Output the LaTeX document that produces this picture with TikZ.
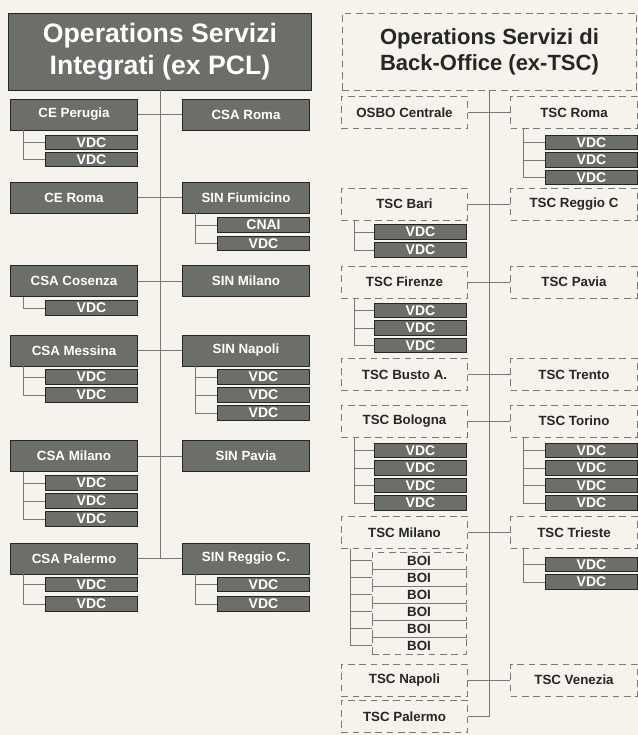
\documentclass[tikz,border=0pt]{standalone}
\usepackage{fontspec}
\setmainfont{Liberation Sans}
\definecolor{paper}{RGB}{245,243,236}
\definecolor{boxgray}{RGB}{108,110,105}
\definecolor{linegray}{RGB}{120,120,120}
\begin{document}
\begin{tikzpicture}[x=0.75pt, y=-0.75pt, font=\bfseries\fontsize{10}{12}\selectfont,
  unit/.style={draw=black!85, line width=0.7pt, fill=boxgray, text=white, inner sep=0pt, minimum width=95pt, minimum height=23.25pt},
  vdc/.style={draw=black!85, line width=0.7pt, fill=boxgray, text=white, inner sep=0pt, minimum width=68.5pt, minimum height=10.8pt, font=\bfseries\fontsize{10.5}{10.5}\selectfont},
  site/.style={draw=linegray, line width=0.6pt, dash pattern=on 5pt off 3.5pt, text=black!85, inner sep=0pt, minimum width=95pt, minimum height=24pt},
  boi/.style={draw=linegray, line width=0.6pt, dash pattern=on 5pt off 3.5pt, text=black!85, inner sep=0pt, minimum width=70.5pt, minimum height=12.75pt, font=\bfseries\fontsize{10}{10}\selectfont},
  link/.style={draw=linegray, line width=0.6pt}]
\useasboundingbox (0,0) rectangle (638,735);
\fill[paper] (0,0) rectangle (638,735);

% Operations Servizi Integrati
\node[unit, minimum width=227pt, minimum height=57.75pt, align=center, font=\bfseries\fontsize{20}{24}\selectfont] (pcl) at (160,51.5) {Operations Servizi\\Integrati (ex PCL)};
\node[unit] (ceper) at (74,114.5) {CE Perugia};
\node[unit] (csarm) at (246,114.5) {CSA Roma};
\node[vdc] (ceper1) at (91.5,142.5) {VDC};
\node[vdc] (ceper2) at (91.5,159.5) {VDC};
\node[unit] (cerm) at (74,197.5) {CE Roma};
\node[unit] (sinfco) at (246,197.5) {SIN Fiumicino};
\node[vdc] (sinfco1) at (263.5,225) {CNAI};
\node[vdc] (sinfco2) at (263.5,243.5) {VDC};
\node[unit] (csacs) at (74,281) {CSA Cosenza};
\node[unit] (sinmi) at (246,281) {SIN Milano};
\node[vdc] (csacs1) at (91.5,308) {VDC};
\node[unit] (csame) at (74,350.5) {CSA Messina};
\node[unit] (sinna) at (246,350.5) {SIN Napoli};
\node[vdc] (csame1) at (91.5,377) {VDC};
\node[vdc] (csame2) at (91.5,395) {VDC};
\node[vdc] (sinna1) at (263.5,377) {VDC};
\node[vdc] (sinna2) at (263.5,395) {VDC};
\node[vdc] (sinna3) at (263.5,413) {VDC};
\node[unit] (csami) at (74,456) {CSA Milano};
\node[unit] (sinpv) at (246,456) {SIN Pavia};
\node[vdc] (csami1) at (91.5,483) {VDC};
\node[vdc] (csami2) at (91.5,501) {VDC};
\node[vdc] (csami3) at (91.5,519) {VDC};
\node[unit] (csapa) at (74,558.5) {CSA Palermo};
\node[unit] (sinrc) at (246,558.5) {SIN Reggio C.};
\node[vdc] (csapa1) at (91.5,584.5) {VDC};
\node[vdc] (csapa2) at (91.5,604) {VDC};
\node[vdc] (sinrc1) at (263.5,584.5) {VDC};
\node[vdc] (sinrc2) at (263.5,604) {VDC};
\coordinate (pclend) at (160,558.5);

\draw[link] (pcl.south) -- (pclend);
\draw[link] (ceper.east) -- (csarm.west);
\draw[link] (cerm.east) -- (sinfco.west);
\draw[link] (csacs.east) -- (sinmi.west);
\draw[link] (csame.east) -- (sinna.west);
\draw[link] (csami.east) -- (sinpv.west);
\draw[link] (csapa.east) -- (sinrc.west);
\draw[link] ([xshift=10pt]ceper.south west) |- (ceper1.west);
\draw[link] ([xshift=10pt]ceper.south west) |- (ceper2.west);
\draw[link] ([xshift=10pt]sinfco.south west) |- (sinfco1.west);
\draw[link] ([xshift=10pt]sinfco.south west) |- (sinfco2.west);
\draw[link] ([xshift=10pt]csacs.south west) |- (csacs1.west);
\draw[link] ([xshift=10pt]csame.south west) |- (csame1.west);
\draw[link] ([xshift=10pt]csame.south west) |- (csame2.west);
\draw[link] ([xshift=10pt]sinna.south west) |- (sinna1.west);
\draw[link] ([xshift=10pt]sinna.south west) |- (sinna2.west);
\draw[link] ([xshift=10pt]sinna.south west) |- (sinna3.west);
\draw[link] ([xshift=10pt]csami.south west) |- (csami1.west);
\draw[link] ([xshift=10pt]csami.south west) |- (csami2.west);
\draw[link] ([xshift=10pt]csami.south west) |- (csami3.west);
\draw[link] ([xshift=10pt]csapa.south west) |- (csapa1.west);
\draw[link] ([xshift=10pt]csapa.south west) |- (csapa2.west);
\draw[link] ([xshift=10pt]sinrc.south west) |- (sinrc1.west);
\draw[link] ([xshift=10pt]sinrc.south west) |- (sinrc2.west);

% Operations Servizi di Back-Office
\node[site, minimum width=221pt, minimum height=57.75pt, align=center, font=\bfseries\fontsize{16.5}{19.5}\selectfont] (tsc) at (489.5,51.5) {Operations Servizi di\\Back-Office (ex-TSC)};
\node[site] (osbo) at (404.5,112.5) {OSBO Centrale};
\node[site] (tscrm) at (574,112.5) {TSC Roma};
\node[vdc] (tscrm1) at (591.5,142.5) {VDC};
\node[vdc] (tscrm2) at (591.5,160) {VDC};
\node[vdc] (tscrm3) at (591.5,177.5) {VDC};
\node[site] (tscba) at (404.5,204) {TSC Bari};
\node[site] (tscrc) at (574,204) {TSC Reggio C};
\node[vdc] (tscba1) at (420.5,232) {VDC};
\node[vdc] (tscba2) at (420.5,250) {VDC};
\node[site] (tscfi) at (404.5,282) {TSC Firenze};
\node[site] (tscpv) at (574,282) {TSC Pavia};
\node[vdc] (tscfi1) at (420.5,310.5) {VDC};
\node[vdc] (tscfi2) at (420.5,328) {VDC};
\node[vdc] (tscfi3) at (420.5,345.5) {VDC};
\node[site] (tscbu) at (404.5,374.5) {TSC Busto A.};
\node[site] (tsctn) at (574,374.5) {TSC Trento};
\node[site] (tscbo) at (404.5,421) {TSC Bologna};
\node[site] (tscto) at (574,421) {TSC Torino};
\node[vdc] (tscbo1) at (420.5,450.5) {VDC};
\node[vdc] (tscbo2) at (420.5,468) {VDC};
\node[vdc] (tscbo3) at (420.5,485.5) {VDC};
\node[vdc] (tscbo4) at (420.5,503) {VDC};
\node[vdc] (tscto1) at (591.5,450.5) {VDC};
\node[vdc] (tscto2) at (591.5,468) {VDC};
\node[vdc] (tscto3) at (591.5,485.5) {VDC};
\node[vdc] (tscto4) at (591.5,503) {VDC};
\node[site] (tscmi) at (404.5,532.5) {TSC Milano};
\node[site] (tscts) at (574,532.5) {TSC Trieste};
\node[boi] (tscmi1) at (419,560.5) {BOI};
\node[boi] (tscmi2) at (419,577.5) {BOI};
\node[boi] (tscmi3) at (419,594.5) {BOI};
\node[boi] (tscmi4) at (419,611.5) {BOI};
\node[boi] (tscmi5) at (419,628.5) {BOI};
\node[boi] (tscmi6) at (419,645.5) {BOI};
\node[vdc] (tscts1) at (591.5,564.5) {VDC};
\node[vdc] (tscts2) at (591.5,582) {VDC};
\node[site] (tscna) at (404.5,680) {TSC Napoli};
\node[site] (tscve) at (574,680) {TSC Venezia};
\node[site] (tscpa) at (404.5,716.5) {TSC Palermo};
\coordinate (tscend) at (489.5,716.5);

\draw[link] (tsc.south) -- (tscend);
\draw[link] (osbo.east) -- (tscrm.west);
\draw[link] (tscba.east) -- (tscrc.west);
\draw[link] (tscfi.east) -- (tscpv.west);
\draw[link] (tscbu.east) -- (tsctn.west);
\draw[link] (tscbo.east) -- (tscto.west);
\draw[link] (tscmi.east) -- (tscts.west);
\draw[link] (tscna.east) -- (tscve.west);
\draw[link] (tscpa.east) -- (tscend);
\draw[link] ([xshift=10pt]tscrm.south west) |- (tscrm1.west);
\draw[link] ([xshift=10pt]tscrm.south west) |- (tscrm2.west);
\draw[link] ([xshift=10pt]tscrm.south west) |- (tscrm3.west);
\draw[link] ([xshift=10pt]tscba.south west) |- (tscba1.west);
\draw[link] ([xshift=10pt]tscba.south west) |- (tscba2.west);
\draw[link] ([xshift=10pt]tscfi.south west) |- (tscfi1.west);
\draw[link] ([xshift=10pt]tscfi.south west) |- (tscfi2.west);
\draw[link] ([xshift=10pt]tscfi.south west) |- (tscfi3.west);
\draw[link] ([xshift=10pt]tscbo.south west) |- (tscbo1.west);
\draw[link] ([xshift=10pt]tscbo.south west) |- (tscbo2.west);
\draw[link] ([xshift=10pt]tscbo.south west) |- (tscbo3.west);
\draw[link] ([xshift=10pt]tscbo.south west) |- (tscbo4.west);
\draw[link] ([xshift=10pt]tscto.south west) |- (tscto1.west);
\draw[link] ([xshift=10pt]tscto.south west) |- (tscto2.west);
\draw[link] ([xshift=10pt]tscto.south west) |- (tscto3.west);
\draw[link] ([xshift=10pt]tscto.south west) |- (tscto4.west);
\draw[link] ([xshift=7pt]tscmi.south west) |- (tscmi1.west);
\draw[link] ([xshift=7pt]tscmi.south west) |- (tscmi2.west);
\draw[link] ([xshift=7pt]tscmi.south west) |- (tscmi3.west);
\draw[link] ([xshift=7pt]tscmi.south west) |- (tscmi4.west);
\draw[link] ([xshift=7pt]tscmi.south west) |- (tscmi5.west);
\draw[link] ([xshift=7pt]tscmi.south west) |- (tscmi6.west);
\draw[link] ([xshift=10pt]tscts.south west) |- (tscts1.west);
\draw[link] ([xshift=10pt]tscts.south west) |- (tscts2.west);
\end{tikzpicture}
\end{document}
